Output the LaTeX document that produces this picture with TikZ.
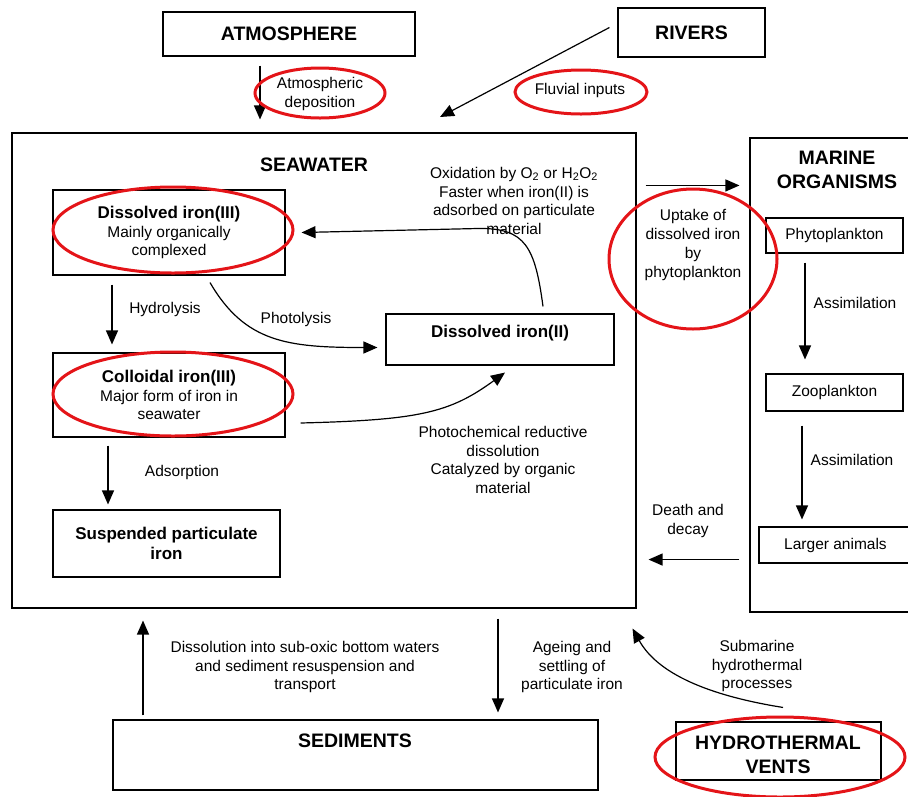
\documentclass[tikz,border=0pt]{standalone}
\usepackage{fontspec}
\setmainfont{Liberation Sans}
\usetikzlibrary{arrows.meta}
\usetikzlibrary{calc}
\definecolor{markred}{RGB}{228,20,24}
\newcommand{\fhead}{\fontsize{19.5}{24}\selectfont\bfseries}
\newcommand{\ftitle}{\fontsize{17}{20.5}\selectfont\bfseries}
\newcommand{\flabel}{\fontsize{15.5}{18.8}\selectfont}

\begin{document}
\begin{tikzpicture}[x=1pt, y=-1pt,
        box/.style={draw=black, line width=1.1pt, inner sep=0pt, align=center, font=\flabel},
        lbl/.style={font=\flabel, align=center, inner sep=0pt},
        arr/.style={-{Triangle[length=14pt,width=12pt]}, line width=1.2pt},
        hl/.style={draw=markred, line width=3pt}]
        \useasboundingbox (0,0) rectangle (908,796);
        \clip (0,0) rectangle (908,796);

        %outer boxes
        \node[box, font=\fhead, minimum width=252pt, minimum height=44pt] (atm) at (289,34) {ATMOSPHERE};
        \node[box, font=\fhead, minimum width=147pt, minimum height=49pt] (riv) at (691.5,32.5) {RIVERS};
        \node[box, minimum width=624pt, minimum height=475pt] (sea) at (324,370.5) {};
        \node[font=\fhead] (seat) at (314,165) {SEAWATER};
        \node[box, minimum width=170pt, minimum height=474pt] (mar) at (835,375) {};
        \node[font=\fhead, align=center] (mart) at (837,170) {MARINE\\ORGANISMS};
        \node[box, minimum width=485pt, minimum height=70pt] (sed) at (355.5,755) {};
        \node[font=\fhead] (sedt) at (355,741) {SEDIMENTS};
        \node[box, minimum width=205pt, minimum height=58pt] (hyd) at (778.5,751) {};
        \node[font=\fhead, align=center] (hydt) at (778,755) {HYDROTHERMAL\\VENTS};

        %iron in seawater
        \node[box, minimum width=232pt, minimum height=85pt] (fe3) at (169,232.5) {{\ftitle Dissolved iron(III)}\\Mainly organically\\complexed};
        \node[box, minimum width=232pt, minimum height=84pt] (col) at (169,395) {{\ftitle Colloidal iron(III)}\\Major form of iron in\\seawater};
        \node[box, font=\ftitle, minimum width=227pt, minimum height=67pt] (spm) at (166.5,543.5) {Suspended particulate\\iron};
        \node[box, minimum width=228pt, minimum height=51pt] (fe2) at (500,339.5) {};
        \node[font=\ftitle] (fe2t) at (500,333) {Dissolved iron(II)};

        %organisms
        \node[box, minimum width=137pt, minimum height=35pt] (phy) at (834.5,235.5) {Phytoplankton};
        \node[box, minimum width=137pt, minimum height=37pt] (zoo) at (834.5,392.5) {Zooplankton};
        \node[box, minimum width=153pt, minimum height=36pt] (big) at (835.5,545) {Larger animals};

        %labels
        \node[lbl] (l1) at (320,94) {Atmospheric\\deposition};
        \node[lbl] (l2) at (580,90) {Fluvial inputs};
        \node[lbl] (l3) at (514,201) {Oxidation by O\textsubscript{2} or H\textsubscript{2}O\textsubscript{2}\\Faster when iron(II) is\\adsorbed on particulate\\material};
        \node[lbl] (l4) at (693,245) {Uptake of\\dissolved iron\\by\\phytoplankton};
        \node[lbl] (l5) at (165,309) {Hydrolysis};
        \node[lbl] (l6) at (296,319) {Photolysis};
        \node[lbl] (l7) at (503,460) {Photochemical reductive\\dissolution\\Catalyzed by organic\\material};
        \node[lbl] (l8) at (182,472) {Adsorption};
        \node[lbl] (l9) at (855,303) {Assimilation};
        \node[lbl] (l10) at (852,460) {Assimilation};
        \node[lbl] (l11) at (688,521) {Death and\\decay};
        \node[lbl] (l12) at (305,667) {Dissolution into sub-oxic bottom waters\\and sediment resuspension and\\transport};
        \node[lbl] (l13) at (572,667) {Ageing and\\settling of\\particulate iron};
        \node[lbl] (l14) at (757,666) {Submarine\\hydrothermal\\processes};

        %arrows
        \coordinate (fluv) at (440,117);
        \draw[arr] ([shift={(-29pt,-9pt)}]atm.south) -- ([shift={(-64pt,13pt)}]sea.north);
        \draw[arr] ([shift={(-8pt,5pt)}]riv.west) -- (fluv);
        \draw[arr] ([shift={(-57pt,-9pt)}]fe3.south) -- ([shift={(-57pt,8pt)}]col.north);
        \draw[arr] ([shift={(-61pt,-8pt)}]col.south) -- ([shift={(-58.5pt,5pt)}]spm.north);
        \draw[arr] ([shift={(41pt,-7pt)}]fe3.south) .. controls +(35,60) and +(-90,0) .. ([shift={(-8pt,-8pt)}]fe2.west);
        \draw[arr] ([shift={(43pt,7pt)}]fe2.north) .. controls +(-8,-60) and +(45,0) .. ++(-63,-78) -- ([xshift=16pt]fe3.east);
        \draw[arr] ([shift={(15pt,-28pt)}]col.east) .. controls +(120,-3) and +(-55,40) .. ([shift={(5pt,-7pt)}]fe2.south);
        \draw[arr] ([shift={(9pt,-53pt)}]sea.north east) -- ([shift={(-10pt,-48pt)}]mar.north west);
        \draw[arr] ([shift={(-10pt,53pt)}]mar.south west) -- ([shift={(12pt,49pt)}]sea.south east);
        \draw[arr] ([shift={(-29.5pt,-9pt)}]phy.south) -- ([shift={(-29.5pt,14pt)}]zoo.north);
        \draw[arr] ([shift={(-32.5pt,-14pt)}]zoo.south) -- ([shift={(-33.5pt,7pt)}]big.north);
        \draw[arr] ([shift={(-212.5pt,4pt)}]sed.north) -- ([shift={(-181pt,-12pt)}]sea.south);
        \draw[arr] ([shift={(174pt,-10pt)}]sea.south) -- ([shift={(142.5pt,7pt)}]sed.north);
        \draw[arr] ([shift={(4.5pt,14pt)}]hyd.north) .. controls +(-75,-12) and +(25,45) .. ([shift={(-4pt,-20pt)}]sea.south east);

        %red marks
        \draw[hl] (320,93) ellipse [x radius=65pt, y radius=25pt];
        \draw[hl] (581,92) ellipse [x radius=66pt, y radius=22pt];
        \draw[hl] (173,230) ellipse [x radius=120pt, y radius=43pt];
        \draw[hl] (173,394) ellipse [x radius=120pt, y radius=42pt];
        \draw[hl] (693,259) ellipse [x radius=84pt, y radius=70pt];
        \draw[hl] (780,757) ellipse [x radius=125pt, y radius=40pt];
    \end{tikzpicture}
\end{document}
